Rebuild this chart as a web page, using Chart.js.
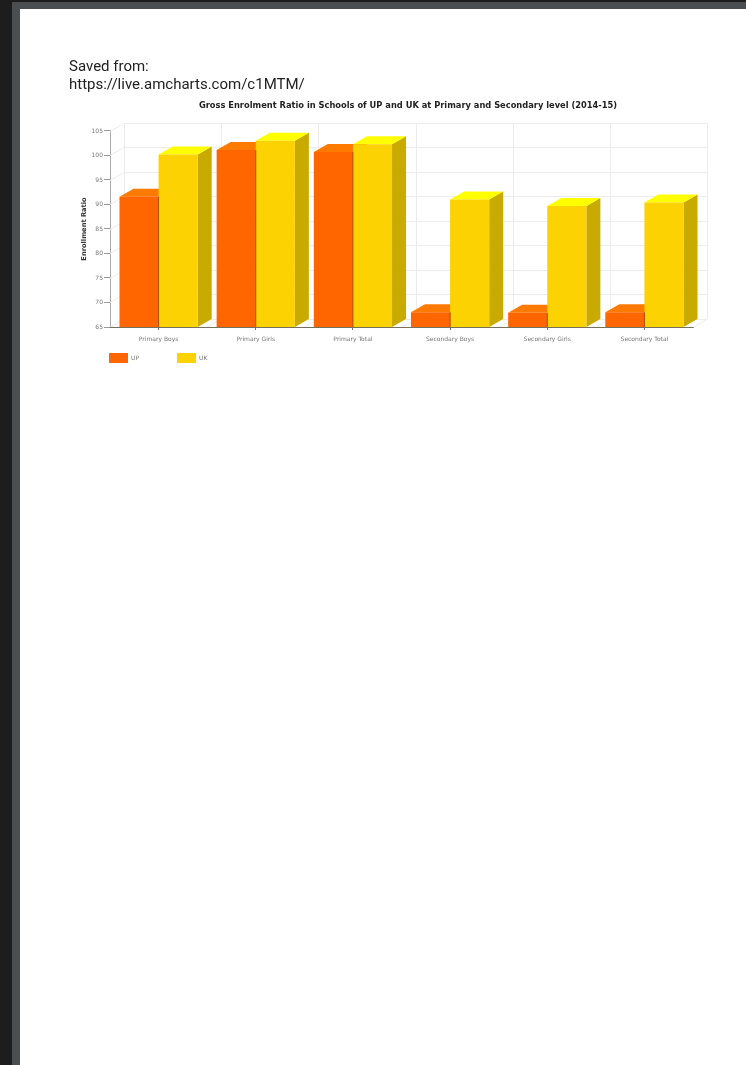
<!DOCTYPE html>
<html>
<head>
<meta charset="utf-8">
<title>Gross Enrolment Ratio</title>
<script src="https://cdn.jsdelivr.net/npm/chart.js@4"></script>
<style>
  html, body { margin: 0; padding: 0; width: 746px; height: 1065px; overflow: hidden; background: #1d1d1e; }
  #frame { position: absolute; left: 12px; top: 2px; width: 734px; height: 1063px; background: #4b4e51; }
  #sheet { position: absolute; left: 20px; top: 9px; width: 726px; height: 1056px; background: #fff; }
  #saved { position: absolute; left: 69px; top: 57px; font: 15px/18px Roboto, sans-serif; color: #222; filter: blur(0.3px); }
  #chartBox { position: absolute; left: 70px; top: 90px; width: 676px; height: 290px; filter: blur(0.7px); }
</style>
</head>
<body>
<div id="frame"></div>
<div id="sheet"></div>
<div id="saved">Saved from:<br>https://live.amcharts.com/c1MTM/</div>
<div id="chartBox"><canvas id="enrolChart" width="676" height="290"></canvas></div>

<script>
// Values
var categories = ['Primary Boys', 'Primary Girls', 'Primary Total', 'Secondary Boys', 'Secondary Girls', 'Secondary Total'];
var upValues = [91.6, 101.1, 100.7, 68, 67.9, 68];
var ukValues = [100.2, 103, 102.3, 91, 89.7, 90.4];
var yTicks = [65, 70, 75, 80, 85, 90, 95, 100, 105];

// How far the 3D look pushes things back
var depthX = 14;
var depthY = 8;
var rightGap = 53;

// Top and side colours for the fake 3D bars, by dataset index
var topColors = ['#ff7a00', '#ffff00'];
var sideColors = ['#d95700', '#c9aa00'];

function fillShape(ctx, color, pts) {
  ctx.fillStyle = color;
  ctx.beginPath();
  ctx.moveTo(pts[0][0], pts[0][1]);
  for (var i = 1; i < pts.length; i++) {
    ctx.lineTo(pts[i][0], pts[i][1]);
  }
  ctx.closePath();
  ctx.fill();
}

function strokeLine(ctx, x1, y1, x2, y2) {
  ctx.beginPath();
  ctx.moveTo(x1, y1);
  ctx.lineTo(x2, y2);
  ctx.stroke();
}

var wallsPlugin = {
  id: 'walls',
  // title is centred on the whole canvas, not on what the right padding leaves
  afterLayout: function(chart) {
    chart.titleBlock.left += rightGap;
  },
  beforeDatasetsDraw: function(chart) {
    var ctx = chart.ctx;
    var area = chart.chartArea;
    var yScale = chart.scales.y;
    var step = area.width / categories.length;
    ctx.save();

    // back wall, left wall and floor lines
    ctx.lineWidth = 1;
    ctx.strokeStyle = '#ececec';
    yTicks.forEach(function(t) {
      var y = Math.round(yScale.getPixelForValue(t)) + 0.5;
      strokeLine(ctx, area.left, y, area.left + depthX, y - depthY);
      strokeLine(ctx, area.left + depthX, y - depthY, area.right + depthX, y - depthY);
    });
    for (var i = 0; i <= categories.length; i++) {
      var x = Math.round(area.left + step * i) + 0.5;
      strokeLine(ctx, x + depthX, area.top - depthY, x + depthX, area.bottom - depthY);
      strokeLine(ctx, x, area.bottom, x + depthX, area.bottom - depthY);
    }

    // top and side faces, UP first so the UK faces and fronts cover it
    [0, 1].forEach(function(n) {
      chart.getDatasetMeta(n).data.forEach(function(bar) {
        var left = bar.x - bar.width / 2;
        var right = bar.x + bar.width / 2;
        fillShape(ctx, sideColors[n], [[right, bar.y], [right + depthX, bar.y - depthY], [right + depthX, area.bottom - depthY], [right, area.bottom]]);
        fillShape(ctx, topColors[n], [[left, bar.y], [left + depthX, bar.y - depthY], [right + depthX, bar.y - depthY], [right, bar.y]]);
      });
    });
    ctx.restore();
  },
  // seam, axis line on top of the bars, legend spaced wider than the built in one
  afterDatasetsDraw: function(chart) {
    var ctx = chart.ctx;
    var area = chart.chartArea;
    ctx.save();
    ctx.lineWidth = 1;
    ctx.strokeStyle = '#a8500c';
    chart.getDatasetMeta(0).data.forEach(function(bar) {
      var seam = bar.x + bar.width / 2;
      strokeLine(ctx, seam, bar.y, seam, area.bottom);
    });
    ctx.strokeStyle = '#77705a';
    strokeLine(ctx, area.left, area.bottom + 0.5, area.right, area.bottom + 0.5);
    var legendX = [39, 107];
    ctx.font = '6px "DejaVu Sans"';
    ctx.textBaseline = 'middle';
    chart.data.datasets.forEach(function(ds, n) {
      ctx.fillStyle = ds.backgroundColor;
      ctx.fillRect(legendX[n], 263, 19, 10);
      ctx.fillStyle = '#777';
      ctx.fillText(ds.label, legendX[n] + 22, 268.5);
    });
    ctx.restore();
  }
};

var enrolChart = new Chart(document.getElementById('enrolChart').getContext('2d'), {
  type: 'bar',
  data: {
    labels: categories,
    datasets: [
      { label: 'UP', data: upValues, backgroundColor: '#ff6600' },
      { label: 'UK', data: ukValues, backgroundColor: '#fcd202' }
    ]
  },
  plugins: [wallsPlugin],
  options: {
    responsive: false,
    animation: false,
    layout: { padding: { right: rightGap } },
    datasets: { bar: { categoryPercentage: 0.805, barPercentage: 1 } },
    plugins: {
      legend: { display: false },
      tooltip: { enabled: false },
      title: {
        display: true,
        text: 'Gross Enrolment Ratio in Schools of UP and UK at Primary and Secondary level (2014-15)',
        color: '#222',
        font: { family: '"DejaVu Sans"', size: 8.3, weight: 'bold' },
        padding: { top: 11, bottom: 20 }
      }
    },
    scales: {
      x: {
        afterFit: function(scale) { scale.height = 53; },
        grid: { offset: false, drawOnChartArea: false, tickLength: 3, tickColor: '#777' },
        border: { color: '#77705a' },
        ticks: { color: '#777', padding: 6, maxRotation: 0, autoSkip: false, font: { family: '"DejaVu Sans"', size: 6 } }
      },
      y: {
        min: 65,
        max: 105,
        afterFit: function(scale) { scale.width = 40; },
        grid: { drawOnChartArea: false, tickLength: 6, tickColor: '#999' },
        border: { color: '#aaa' },
        afterBuildTicks: function(scale) { scale.ticks = yTicks.map(function(v) { return { value: v }; }); },
        ticks: { color: '#777', padding: 1, font: { family: '"DejaVu Sans"', size: 6 } },
        title: {
          display: true,
          text: 'Enrollment Ratio',
          color: '#333',
          padding: { top: 10, bottom: 0 },
          font: { family: '"DejaVu Sans"', size: 6.7, weight: 'bold' }
        }
      }
    }
  }
});
</script>
</body>
</html>
